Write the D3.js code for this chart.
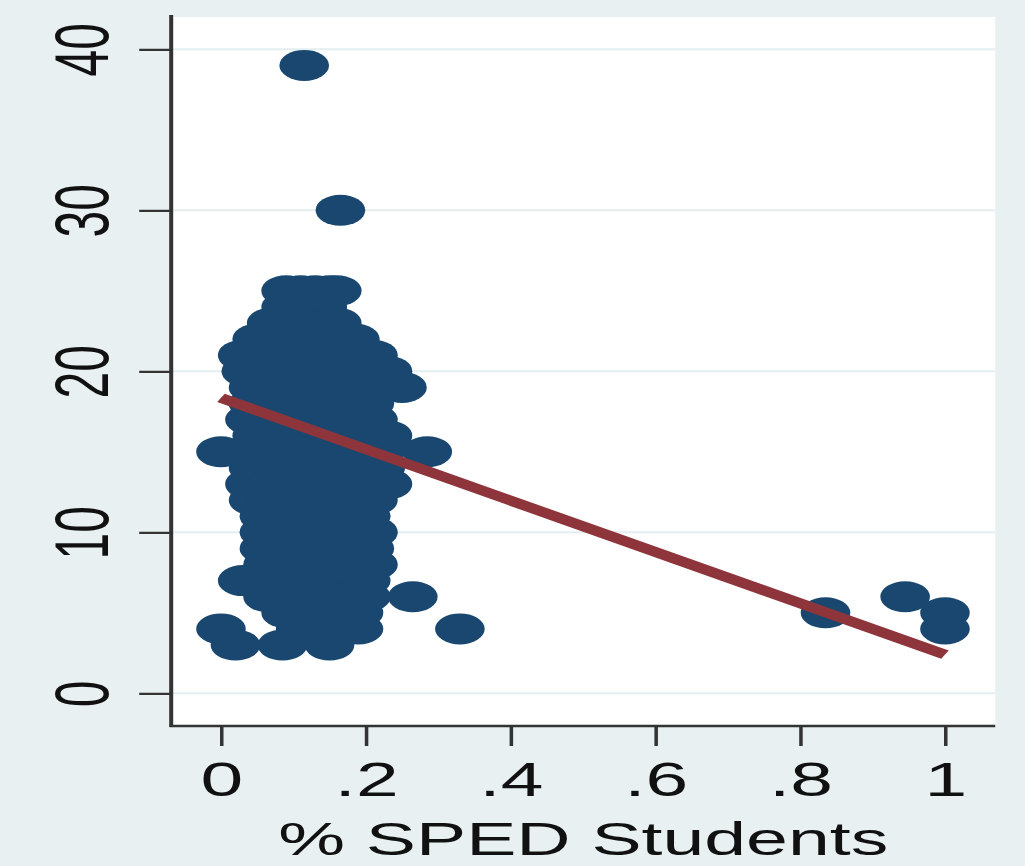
<!DOCTYPE html>
<html>
<head>
<meta charset="utf-8">
<script src="https://cdn.jsdelivr.net/npm/d3@7"></script>
<style>
  html, body { margin: 0; padding: 0; background: #E8F0F2; }
  svg { display: block; }
  text { font-family: "Liberation Sans", Arial, Helvetica, sans-serif; fill: #111; }
</style>
</head>
<body>
<svg id="chart"></svg>
<script>
// Share of special-education students (x) against the outcome (y), one point per school.
const spedShare = [
  .09, .11, .13, .15, .16,                       // 25
  .09, .11, .13, .14,                            // 24
  .07, .09, .11, .13, .15, .16,                  // 23
  .05, .08, .10, .12, .14, .16, .185,            // 22
  .03, .06, .09, .12, .15, .18, .21,             // 21
  .035, .06, .09, .12, .15, .18, .21, .23,       // 20
  .045, .07, .10, .13, .16, .19, .22, .25,       // 19
  .045, .07, .10, .13, .16, .19, .205,           // 18
  .04, .07, .10, .13, .16, .19, .21,             // 17
  .05, .08, .11, .14, .17, .20, .23,             // 16
  .00, .05, .08, .11, .14, .17, .20, .22, .285,  // 15
  .045, .07, .10, .13, .16, .19, .22,            // 14
  .04, .07, .10, .13, .16, .19, .23,             // 13
  .045, .07, .10, .13, .16, .19, .21,            // 12
  .06, .09, .12, .15, .18, .20,                  // 11
  .06, .09, .12, .15, .18, .21,                  // 10
  .06, .09, .12, .15, .18, .205,                 // 9
  .065, .09, .12, .15, .18, .21,                 // 8
  .03, .06, .09, .12, .15, .18, .20,             // 7
  .065, .09, .12, .15, .18, .20, .265, .945,     // 6
  .09, .12, .15, .18, .19, .835, 1.0,            // 5
  .00, .11, .14, .17, .19, .33, 1.0,             // 4
  .02, .085, .15,                                // 3
  .115, .165                                     // 39, 30
];
const outcome = [
  25, 25, 25, 25, 25,
  24, 24, 24, 24,
  23, 23, 23, 23, 23, 23,
  22, 22, 22, 22, 22, 22, 22,
  21, 21, 21, 21, 21, 21, 21,
  20, 20, 20, 20, 20, 20, 20, 20,
  19, 19, 19, 19, 19, 19, 19, 19,
  18, 18, 18, 18, 18, 18, 18,
  17, 17, 17, 17, 17, 17, 17,
  16, 16, 16, 16, 16, 16, 16,
  15, 15, 15, 15, 15, 15, 15, 15, 15,
  14, 14, 14, 14, 14, 14, 14,
  13, 13, 13, 13, 13, 13, 13,
  12, 12, 12, 12, 12, 12, 12,
  11, 11, 11, 11, 11, 11,
  10, 10, 10, 10, 10, 10,
  9, 9, 9, 9, 9, 9,
  8, 8, 8, 8, 8, 8,
  7, 7, 7, 7, 7, 7, 7,
  6, 6, 6, 6, 6, 6, 6, 6,
  5, 5, 5, 5, 5, 5, 5,
  4, 4, 4, 4, 4, 4, 4,
  3, 3, 3,
  39, 30
];

// Linear fit endpoints
const fitX = [0, 1];
const fitY = [18.35, 2.4];

const xTicks = [0, .2, .4, .6, .8, 1];
const xTickLabels = ["0", ".2", ".4", ".6", ".8", "1"];
const yTicks = [0, 10, 20, 30, 40];
const yTickLabels = ["0", "10", "20", "30", "40"];
const xTitle = "% SPED Students";

// The graph is laid out in a narrow frame and stretched horizontally to fill the window.
const outW = 1025, outH = 866;
const stretch = 1.6;
const W = outW / stretch;

const plot = { left: 107, right: 622, top: 17, bottom: 726 };

const svg = d3.select("#chart")
  .attr("width", outW)
  .attr("height", outH)
  .attr("viewBox", `0 0 ${W} ${outH}`)
  .attr("preserveAspectRatio", "none");

const bg = "#E8F0F2";
svg.append("rect").attr("x", 0).attr("y", 0).attr("width", W).attr("height", outH).attr("fill", bg);
svg.append("rect")
  .attr("x", plot.left).attr("y", plot.top)
  .attr("width", plot.right - plot.left).attr("height", plot.bottom - plot.top)
  .attr("fill", "#ffffff");

const x = d3.scaleLinear().domain([0, 1]).range([138.1, 590.6]);
const y = d3.scaleLinear().domain([0, 40]).range([693.3, 49.3]);

// Horizontal grid lines
svg.append("g")
  .selectAll("line")
  .data(yTicks)
  .join("line")
  .attr("x1", plot.left).attr("x2", plot.right)
  .attr("y1", d => y(d)).attr("y2", d => y(d))
  .attr("stroke", "#E4EEF0")
  .attr("stroke-width", 2);

// Scatter points
const pts = spedShare.map((v, i) => ({ x: v, y: outcome[i] }));
svg.append("g")
  .selectAll("circle")
  .data(pts)
  .join("circle")
  .attr("cx", d => x(d.x))
  .attr("cy", d => y(d.y))
  .attr("r", 15.5)
  .attr("fill", "#1A476F");

// Fitted line
const fit = fitX.map((v, i) => [v, fitY[i]]);
svg.append("path")
  .datum(fit)
  .attr("d", d3.line().x(d => x(d[0])).y(d => y(d[1])))
  .attr("fill", "none")
  .attr("stroke", "#8E353B")
  .attr("stroke-width", 9.5);

const axisColor = "#333333";

// Y axis
const yAxis = svg.append("g")
  .attr("transform", `translate(${plot.left},0)`)
  .call(d3.axisLeft(y).tickValues(yTicks).tickSize(20)
    .tickFormat((d, i) => yTickLabels[i]));
yAxis.select(".domain").remove();
yAxis.selectAll(".tick line").attr("stroke", axisColor).attr("stroke-width", 2.2);
yAxis.selectAll(".tick text")
  .attr("x", null).attr("dy", null)
  .attr("transform", "translate(-39.5,0) rotate(-90)")
  .attr("text-anchor", "middle")
  .attr("font-size", 48)
  .attr("fill", "#111");
svg.append("line")
  .attr("x1", plot.left).attr("x2", plot.left)
  .attr("y1", plot.top - 2).attr("y2", plot.bottom + 1)
  .attr("stroke", axisColor).attr("stroke-width", 2.5);

// X axis
const xAxis = svg.append("g")
  .attr("transform", `translate(0,${plot.bottom})`)
  .call(d3.axisBottom(x).tickValues(xTicks).tickSize(20)
    .tickFormat((d, i) => xTickLabels[i]));
xAxis.select(".domain").remove();
xAxis.selectAll(".tick line").attr("stroke", axisColor).attr("stroke-width", 2.2);
xAxis.selectAll(".tick text")
  .attr("y", 70).attr("dy", null)
  .attr("text-anchor", "middle")
  .attr("font-size", 48)
  .attr("fill", "#111");
svg.append("line")
  .attr("x1", plot.left - 1).attr("x2", plot.right)
  .attr("y1", plot.bottom).attr("y2", plot.bottom)
  .attr("stroke", axisColor).attr("stroke-width", 2.5);

// X axis title
svg.append("text")
  .attr("x", (plot.left + plot.right) / 2)
  .attr("y", 855)
  .attr("text-anchor", "middle")
  .attr("font-size", 47)
  .text(xTitle);
</script>
</body>
</html>
